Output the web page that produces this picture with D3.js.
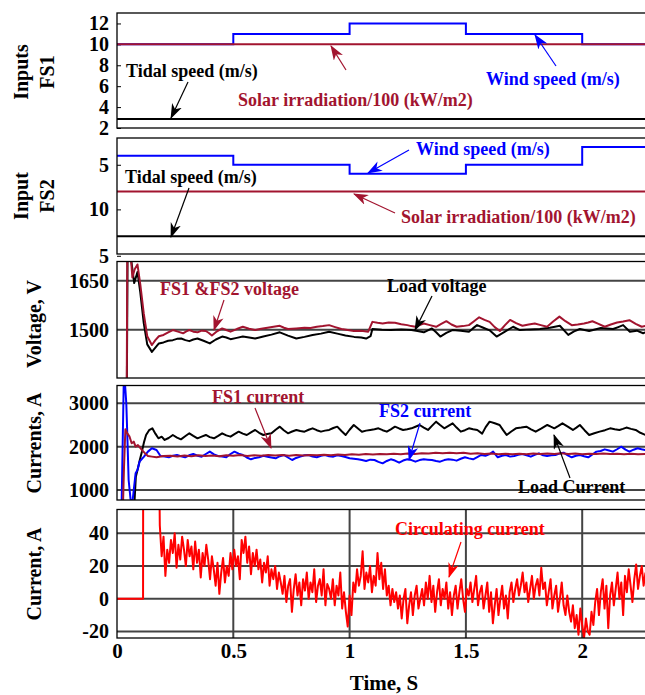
<!DOCTYPE html>
<html>
<head>
<meta charset="utf-8">
<script src="https://cdn.jsdelivr.net/npm/d3@7"></script>
<style>
  body { margin: 0; background: #fff; }
  svg { display: block; }
  text { font-family: "Liberation Serif", "Times New Roman", serif; font-weight: bold; }
</style>
</head>
<body>
<div id="chart"></div>
<script>

  // ---- inputs (step signals), time in s
  var stepTimes = [0, 0.5, 1, 1.5, 2, 2.27];
  var fs1Wind   = [10, 11, 12, 11, 10, 10];
  var fs1Solar  = [10, 10, 10, 10, 10, 10];
  var fs1Tidal  = [2.85, 2.85, 2.85, 2.85, 2.85, 2.85];
  var fs2Wind   = [4, 5, 6, 5, 3, 3];
  var fs2Solar  = [8, 8, 8, 8, 8, 8];
  var fs2Tidal  = [13, 13, 13, 13, 13, 13];

  var fs1Ticks = [2, 4, 6, 8, 10, 12];
  var fs2Ticks = [5, 10, 15.2];
  var fs2TickLabels = ['5', '10', '5'];
  var voltTicks = [1500, 1650];
  var currTicks = [1000, 2000, 3000];
  var circTicks = [-20, 0, 20, 40];
  var timeTicks = [0, 0.5, 1, 1.5, 2];

  // ---- voltages [t, V]
  var fsVoltage = [[0.040,1000],[0.045,1850],[0.056,1760],[0.066,1660],[0.076,1685],[0.088,1700],[0.100,1640],[0.115,1550],[0.130,1480],[0.150,1453],[0.165,1468],[0.180,1480],[0.200,1484],[0.220,1492],[0.240,1499],[0.262,1494],[0.284,1489],[0.298,1495],[0.311,1499],[0.328,1494],[0.346,1492],[0.364,1497],[0.382,1496],[0.395,1490],[0.408,1482],[0.430,1495],[0.452,1504],[0.470,1499],[0.488,1494],[0.515,1502],[0.541,1509],[0.568,1503],[0.594,1499],[0.620,1503],[0.647,1506],[0.673,1509],[0.700,1512],[0.718,1506],[0.735,1502],[0.770,1504],[0.806,1506],[0.832,1505],[0.859,1509],[0.885,1511],[0.912,1514],[0.938,1508],[0.965,1502],[0.992,1499],[1.018,1496],[1.050,1497],[1.080,1494],[1.098,1524],[1.120,1521],[1.142,1519],[1.168,1522],[1.195,1521],[1.222,1517],[1.248,1514],[1.265,1511],[1.283,1509],[1.300,1514],[1.319,1519],[1.345,1514],[1.372,1509],[1.394,1518],[1.416,1526],[1.438,1516],[1.460,1509],[1.487,1511],[1.513,1514],[1.535,1526],[1.557,1538],[1.580,1530],[1.602,1524],[1.624,1508],[1.646,1496],[1.668,1514],[1.690,1530],[1.716,1520],[1.743,1512],[1.770,1516],[1.796,1519],[1.822,1514],[1.849,1509],[1.875,1525],[1.902,1540],[1.928,1526],[1.955,1514],[1.981,1516],[2.008,1519],[2.026,1522],[2.044,1526],[2.070,1518],[2.097,1509],[2.123,1516],[2.150,1522],[2.176,1525],[2.203,1529],[2.230,1518],[2.256,1509],[2.272,1512]];

  var loadVoltage = [[0.040,1000],[0.046,1820],[0.058,1730],[0.074,1643],[0.088,1677],[0.100,1615],[0.115,1520],[0.130,1455],[0.150,1432],[0.165,1445],[0.180,1458],[0.200,1461],[0.220,1466],[0.240,1468],[0.258,1472],[0.276,1473],[0.294,1468],[0.311,1465],[0.328,1470],[0.346,1473],[0.372,1466],[0.399,1458],[0.425,1470],[0.452,1479],[0.470,1476],[0.488,1471],[0.515,1475],[0.541,1479],[0.568,1476],[0.594,1473],[0.612,1476],[0.629,1479],[0.664,1485],[0.700,1492],[0.735,1482],[0.771,1473],[0.806,1478],[0.841,1484],[0.877,1488],[0.912,1494],[0.947,1488],[0.982,1482],[1.020,1478],[1.050,1476],[1.071,1473],[1.090,1480],[1.098,1502],[1.138,1500],[1.177,1499],[1.222,1501],[1.266,1499],[1.292,1496],[1.319,1492],[1.354,1504],[1.372,1492],[1.390,1479],[1.416,1490],[1.442,1499],[1.478,1497],[1.513,1494],[1.530,1504],[1.548,1514],[1.575,1506],[1.602,1498],[1.632,1479],[1.668,1494],[1.703,1509],[1.732,1499],[1.775,1501],[1.818,1502],[1.861,1506],[1.904,1512],[1.940,1484],[1.965,1495],[1.990,1502],[2.030,1496],[2.080,1505],[2.133,1502],[2.155,1508],[2.176,1514],[2.205,1494],[2.235,1497],[2.262,1489],[2.272,1492]];

  // ---- currents [t, A]
  var fs1Current = [[0.026,700],[0.030,1500],[0.036,2400],[0.045,2300],[0.054,2230],[0.063,2077],[0.072,2115],[0.080,2000],[0.090,2038],[0.107,1923],[0.120,1850],[0.133,1785],[0.150,1770],[0.170,1754],[0.200,1785],[0.230,1790],[0.260,1775],[0.290,1795],[0.320,1780],[0.350,1800],[0.380,1785],[0.410,1795],[0.440,1780],[0.470,1800],[0.500,1790],[0.530,1805],[0.560,1785],[0.590,1800],[0.620,1790],[0.650,1810],[0.680,1795],[0.710,1805],[0.740,1790],[0.770,1808],[0.800,1795],[0.830,1810],[0.860,1800],[0.890,1815],[0.920,1800],[0.950,1818],[0.980,1805],[1.010,1825],[1.040,1815],[1.070,1830],[1.100,1818],[1.130,1832],[1.160,1822],[1.190,1835],[1.220,1825],[1.250,1840],[1.280,1830],[1.310,1850],[1.340,1840],[1.370,1858],[1.400,1845],[1.430,1860],[1.460,1848],[1.490,1858],[1.520,1835],[1.550,1845],[1.580,1828],[1.610,1840],[1.640,1825],[1.670,1838],[1.700,1822],[1.730,1835],[1.760,1825],[1.790,1840],[1.820,1828],[1.850,1842],[1.880,1830],[1.910,1845],[1.940,1832],[1.970,1840],[2.000,1825],[2.030,1838],[2.060,1830],[2.090,1842],[2.120,1828],[2.150,1838],[2.180,1825],[2.210,1835],[2.240,1822],[2.272,1830]];

  var fs2Current = [[0.020,700],[0.030,3800],[0.040,3000],[0.045,2150],[0.050,1230],[0.058,800],[0.065,650],[0.072,1000],[0.080,1385],[0.088,1462],[0.097,1654],[0.116,1770],[0.133,1885],[0.150,1962],[0.170,1923],[0.187,1785],[0.205,1770],[0.223,1754],[0.240,1790],[0.258,1808],[0.275,1780],[0.293,1754],[0.310,1800],[0.328,1831],[0.346,1790],[0.364,1769],[0.382,1830],[0.399,1885],[0.417,1820],[0.434,1785],[0.452,1770],[0.470,1754],[0.488,1830],[0.505,1885],[0.523,1840],[0.541,1808],[0.558,1750],[0.576,1708],[0.594,1740],[0.611,1754],[0.629,1790],[0.647,1769],[0.664,1750],[0.682,1731],[0.700,1780],[0.717,1808],[0.735,1750],[0.753,1692],[0.770,1740],[0.788,1769],[0.806,1800],[0.824,1808],[0.841,1770],[0.859,1754],[0.877,1790],[0.894,1808],[0.912,1780],[0.930,1769],[0.947,1800],[0.965,1785],[0.982,1760],[1.000,1731],[1.018,1720],[1.036,1708],[1.053,1690],[1.071,1669],[1.089,1700],[1.107,1692],[1.124,1650],[1.142,1615],[1.160,1670],[1.177,1708],[1.195,1680],[1.213,1631],[1.230,1680],[1.248,1708],[1.266,1690],[1.283,1654],[1.301,1690],[1.319,1708],[1.336,1700],[1.354,1692],[1.372,1670],[1.389,1654],[1.407,1690],[1.425,1708],[1.442,1700],[1.460,1677],[1.478,1720],[1.496,1754],[1.513,1730],[1.531,1708],[1.549,1760],[1.566,1808],[1.584,1790],[1.602,1831],[1.617,1885],[1.637,1754],[1.655,1790],[1.672,1808],[1.690,1770],[1.708,1785],[1.725,1810],[1.743,1831],[1.761,1800],[1.779,1769],[1.796,1810],[1.814,1846],[1.832,1800],[1.849,1785],[1.867,1800],[1.885,1808],[1.902,1840],[1.920,1862],[1.938,1800],[1.955,1754],[1.973,1790],[1.991,1808],[2.008,1780],[2.026,1754],[2.044,1820],[2.061,1885],[2.079,1900],[2.097,1938],[2.115,1910],[2.132,1885],[2.150,1940],[2.168,2000],[2.186,1930],[2.203,1885],[2.221,1930],[2.238,1962],[2.255,1940],[2.272,1923]];

  var loadCurrent = [[0.075,700],[0.081,1308],[0.090,1500],[0.098,1692],[0.107,1885],[0.116,2100],[0.125,2269],[0.138,2380],[0.152,2423],[0.165,2300],[0.178,2192],[0.192,2230],[0.205,2154],[0.222,2200],[0.240,2269],[0.258,2210],[0.275,2169],[0.293,2240],[0.311,2308],[0.328,2250],[0.346,2192],[0.364,2230],[0.382,2269],[0.399,2220],[0.417,2192],[0.435,2250],[0.452,2308],[0.470,2260],[0.488,2231],[0.505,2290],[0.523,2346],[0.541,2300],[0.558,2269],[0.576,2330],[0.594,2385],[0.611,2320],[0.629,2269],[0.646,2290],[0.664,2308],[0.682,2390],[0.700,2461],[0.717,2380],[0.735,2308],[0.753,2350],[0.771,2385],[0.788,2360],[0.806,2346],[0.824,2390],[0.841,2423],[0.859,2380],[0.877,2346],[0.894,2370],[0.912,2385],[0.930,2430],[0.947,2461],[0.965,2360],[0.983,2269],[1.000,2390],[1.018,2500],[1.036,2420],[1.053,2346],[1.071,2370],[1.089,2385],[1.107,2400],[1.124,2423],[1.142,2380],[1.160,2346],[1.177,2400],[1.195,2461],[1.213,2420],[1.230,2385],[1.248,2400],[1.266,2423],[1.283,2460],[1.301,2500],[1.319,2440],[1.337,2385],[1.354,2480],[1.372,2577],[1.389,2500],[1.407,2423],[1.425,2480],[1.443,2538],[1.460,2440],[1.478,2346],[1.496,2380],[1.513,2423],[1.531,2400],[1.549,2385],[1.570,2300],[1.585,2450],[1.602,2577],[1.624,2540],[1.645,2500],[1.660,2380],[1.675,2270],[1.695,2350],[1.715,2423],[1.738,2440],[1.760,2460],[1.780,2400],[1.800,2346],[1.825,2420],[1.850,2500],[1.865,2460],[1.880,2423],[1.898,2480],[1.915,2539],[1.938,2460],[1.960,2385],[1.975,2440],[1.990,2500],[2.010,2380],[2.030,2270],[2.052,2310],[2.075,2346],[2.098,2380],[2.120,2423],[2.140,2400],[2.160,2385],[2.175,2410],[2.190,2440],[2.210,2410],[2.230,2385],[2.250,2320],[2.272,2270]];

  // ---- circulating current: start-up part [t, A], then samples every 0.008 s from 0.184 s
  var circStartup = [[0, 0], [0.112, 0], [0.113, 160], [0.176, 160]];
  var circStart = 0.184, circStep = 0.008;
  var circValues = [
    45, 26, 38, 14, 30, 22, 36, 28, 40, 19, 33, 24, 38,
    30, 20, 36, 26, 32, 18, 35, 22, 30, 13, 28, 20, 33,
    24, 12, 26, 18, 8, 22, 3, 16, 25, 10, 20, 14, 28,
    18, 30, 20, 26, 12, 36, 28, 38, 22, 32, 15, 28, 20,
    30, 18, 24, 10, 22, 16, 26, 8, 18, 12, 20, 6, 16,
    10, 3, 14, -2, 8, 12, -8, 6, 15, 2, 10, -4, 12,
    5, 16, 0, 10, 4, 18, -2, 8, 12, 2, 18, -4, 9,
    6, 0, 12, -4, 8, 2, 16, -6, 4, -8, -17,
    2, -10, 10, 4, 18, 8, 14, 29, 6, 16, 10, 20, 4,
    14, 8, 28, 12, 22, 6, 18, 2, 8, -4, 6, -2, 4,
    -6, 2, -12, 0, 6, -15, -4, 4, -10, 2, 8, -6, 0,
    6, -4, 10, 0, 14, -2, 8, -8, 4, 12, -4, 6, 0,
    10, -6, 4, -10, 2, 8, -6, 4, 12, 0, -8, 6, 2,
    10, -2, 6, 14, -4, 4, 8, -6, 2, 10, -8, 4, -15,
    -4, 6, -10, 0, 8, -6, 2, -12, 4, 10, -2, 6, 12,
    2, 8, 16, 4, 10, -2, 6, 14, 0, 8, 12, 2, 19,
    6, 10, -4, 4, 12, -6, 2, 8, -8, 0, 10, -4, -10,
    2, -8, -14, -4, -18, -10, -22, -6, -16, -24, -12, -20, -22,
    -8, -16, -2, 6, -10, 4, 12, -6, 8, -18, 2, 10, -4,
    6, 16, 0, 10, -10, 14, 4, 18, 8, -2, 12, 21, 6,
    14, 20, 8, 16
  ];

  var DARKRED = '#a2142f', BLUE = '#0000ff', RED = '#ff0000';

  var svg = d3.select('#chart').append('svg')
              .attr('width', 645)
              .attr('height', 695);
  var defs = svg.append('defs');

  var x = d3.scaleLinear().domain([0, 2.27]).range([117, 645]);

  [['black', '#000'], ['darkred', DARKRED], ['blue', BLUE], ['red', RED]].forEach(function(c){
    defs.append('marker')
        .attr('id', 'arr-' + c[0])
        .attr('viewBox', '0 0 14 10')
        .attr('refX', 13).attr('refY', 5)
        .attr('markerWidth', 15).attr('markerHeight', 11)
        .attr('markerUnits', 'userSpaceOnUse')
        .attr('orient', 'auto')
        .append('path')
        .attr('d', 'M0,0 L14,5 L0,10 L4,5 Z')
        .style('fill', c[1]);
  });

  function panel(id, top, bottom, domain){
    var y = d3.scaleLinear().domain(domain).range([bottom, top]);
    defs.append('clipPath').attr('id', 'clip-' + id)
        .append('rect')
        .attr('x', 117).attr('y', top)
        .attr('width', 530).attr('height', bottom - top);
    var g = svg.append('g');
    var plot = svg.append('g').attr('clip-path', 'url(#clip-' + id + ')');
    return { y: y, g: g, plot: plot, top: top, bottom: bottom };
  }

  function border(p){
    svg.append('rect')
       .attr('x', 117).attr('y', p.top)
       .attr('width', 540).attr('height', p.bottom - p.top)
       .style('fill', 'none')
       .style('stroke', '#000')
       .style('stroke-width', 1.3);
  }

  function leftAxis(p, ticks, fmt, inner){
    var ax = d3.axisLeft(p.y).tickValues(ticks)
               .tickSize(inner ? -4 : 0).tickPadding(8)
               .tickFormat(fmt || function(d){ return String(d); });
    var a = p.g.append('g').attr('transform', 'translate(117,0)').call(ax);
    a.select('.domain').remove();
    a.selectAll('line').style('stroke', '#000').style('stroke-width', 1);
    a.selectAll('text').attr('font-size', 20).attr('font-family', null).style('fill', '#000');
  }

  function hGrid(p, ticks){
    p.g.selectAll(null).data(ticks).enter().append('line')
       .attr('x1', 117).attr('x2', 645)
       .attr('y1', function(d){ return p.y(d); })
       .attr('y2', function(d){ return p.y(d); })
       .style('stroke', '#444')
       .style('stroke-width', 2);
  }

  function stepLine(p, values, color){
    var pts = stepTimes.map(function(t, i){ return [t, values[i]]; });
    p.plot.append('path')
          .datum(pts)
          .attr('d', d3.line().curve(d3.curveStepAfter)
                       .x(function(d){ return x(d[0]); })
                       .y(function(d){ return p.y(d[1]); }))
          .style('fill', 'none').style('stroke', color).style('stroke-width', 2);
  }

  function series(p, pts, color, w){
    p.plot.append('path')
          .datum(pts)
          .attr('d', d3.line()
                       .x(function(d){ return x(d[0]); })
                       .y(function(d){ return p.y(d[1]); }))
          .style('fill', 'none').style('stroke', color)
          .style('stroke-width', w || 2).style('stroke-linejoin', 'round');
  }

  function label(txt, px, py, color, size){
    svg.append('text').attr('x', px).attr('y', py)
       .attr('font-size', size || 18)
       .style('fill', color).text(txt);
  }

  function arrow(x1, y1, x2, y2, color, key){
    svg.append('line')
       .attr('x1', x1).attr('y1', y1).attr('x2', x2).attr('y2', y2)
       .style('stroke', color).style('stroke-width', 1.2)
       .attr('marker-end', 'url(#arr-' + key + ')');
  }

  function yTitle(lines, cy){
    lines.forEach(function(l){
      svg.append('text')
         .attr('transform', 'translate(' + l[1] + ',' + cy + ') rotate(-90)')
         .attr('text-anchor', 'middle')
         .attr('font-size', 20)
         .style('fill', '#000')
         .text(l[0]);
    });
  }

  // ---------- panel 1 : inputs FS1
  var p1 = panel('p1', 13, 128, [2, 13]);
  leftAxis(p1, fs1Ticks, null, true);
  stepLine(p1, fs1Wind, BLUE);
  stepLine(p1, fs1Solar, DARKRED);
  stepLine(p1, fs1Tidal, '#000');
  border(p1);
  yTitle([['Inputs', 28], ['FS1', 54]], 72);
  label('Tidal speed (m/s)', 126, 77, '#000');
  arrow(188, 82, 171, 118, '#000', 'black');
  label('Solar irradiation/100 (kW/m2)', 238, 106, DARKRED);
  arrow(346, 70, 331, 46, DARKRED, 'darkred');
  label('Wind speed (m/s)', 486, 85, BLUE);
  arrow(556, 66, 535, 35, BLUE, 'blue');

  // ---------- panel 2 : inputs FS2
  var p2 = panel('p2', 138, 254, [15, 2]);
  leftAxis(p2, fs2Ticks, function(d){ return fs2TickLabels[fs2Ticks.indexOf(d)]; }, true);
  stepLine(p2, fs2Wind, BLUE);
  stepLine(p2, fs2Solar, DARKRED);
  stepLine(p2, fs2Tidal, '#000');
  border(p2);
  yTitle([['Input', 28], ['FS2', 54]], 196);
  label('Wind speed (m/s)', 416, 155, BLUE);
  arrow(409, 150, 368, 173, BLUE, 'blue');
  label('Tidal speed (m/s)', 125, 183, '#000');
  arrow(189, 188, 171, 237, '#000', 'black');
  label('Solar irradiation/100 (kW/m2)', 401, 223, DARKRED);
  arrow(395, 213, 354, 194, DARKRED, 'darkred');

  // ---------- panel 3 : voltages
  var p3 = panel('p3', 261.5, 378, [1352, 1709]);
  hGrid(p3, voltTicks);
  leftAxis(p3, voltTicks);
  series(p3, loadVoltage, '#000');
  series(p3, fsVoltage, DARKRED);
  border(p3);
  yTitle([['Voltage, V', 41]], 324);
  label('FS1 &FS2 voltage', 160, 295, DARKRED);
  arrow(224, 300, 214, 330, DARKRED, 'darkred');
  label('Load voltage', 387, 292, '#000');
  arrow(432, 296, 415, 330, '#000', 'black');

  // ---------- panel 4 : currents
  var p4 = panel('p4', 385.5, 500, [769, 3411]);
  hGrid(p4, currTicks);
  leftAxis(p4, currTicks);
  series(p4, loadCurrent, '#000');
  series(p4, fs2Current, BLUE);
  series(p4, fs1Current, DARKRED);
  border(p4);
  yTitle([['Currents, A', 41]], 443);
  label('FS1 current', 212, 403, DARKRED);
  arrow(255, 408, 271, 448, DARKRED, 'darkred');
  label('FS2 current', 379, 417, BLUE);
  arrow(420, 423, 409, 460, BLUE, 'blue');
  label('Load Current', 518, 493, '#000');
  arrow(570, 478, 554, 435, '#000', 'black');

  // ---------- panel 5 : circulating current
  var p5 = panel('p5', 509.5, 638, [-24, 54.6]);
  hGrid(p5, circTicks);
  p5.g.selectAll(null).data(timeTicks.slice(1)).enter().append('line')
      .attr('x1', function(d){ return x(d); })
      .attr('x2', function(d){ return x(d); })
      .attr('y1', 509.5).attr('y2', 638)
      .style('stroke', '#444').style('stroke-width', 2);
  leftAxis(p5, circTicks);
  var circPts = circStartup.concat(circValues.map(function(v, i){ return [circStart + i * circStep, v]; }));
  series(p5, circPts, RED, 2);
  border(p5);
  yTitle([['Current, A', 41]], 574);
  label('Circulating current', 395, 535, RED);
  arrow(461, 542, 449, 577, RED, 'red');

  var xa = svg.append('g').attr('transform', 'translate(0,638)')
              .call(d3.axisBottom(x).tickValues(timeTicks).tickSize(0).tickPadding(5)
                      .tickFormat(function(d){ return String(d); }));
  xa.select('.domain').remove();
  xa.selectAll('text').attr('font-size', 21).attr('font-family', null).style('fill', '#000');

  svg.append('text').attr('x', 384).attr('y', 690)
     .attr('text-anchor', 'middle').attr('font-size', 21)
     .style('fill', '#000').text('Time, S');

</script>
</body>
</html>
